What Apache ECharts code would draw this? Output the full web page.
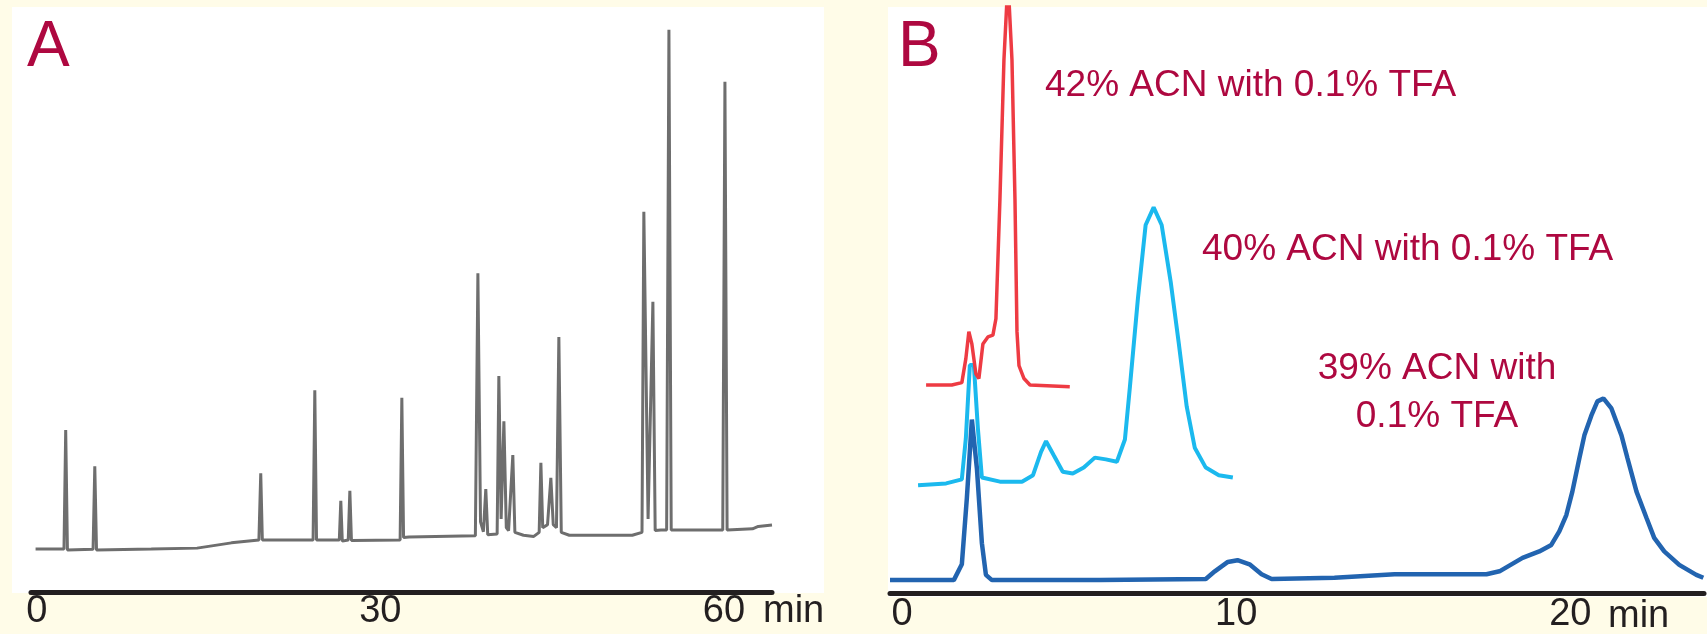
<!DOCTYPE html>
<html><head><meta charset="utf-8">
<script src="https://cdn.jsdelivr.net/npm/echarts@6/dist/echarts.min.js"></script>
<style>html,body{margin:0;padding:0;background:#FFFCE8}#c{width:1707px;height:634px}</style>
</head><body><div id="c"></div>
<script>
// Panel A: chromatogram (time in min, relative signal 0-100)
const traceA = [
  [-0.1, 7.35],
  [2.38, 7.35], [2.53, 27.7], [2.68, 7.2],
  [4.92, 7.3], [5.07, 21.5], [5.22, 7.2],
  [10, 7.35], [14, 7.5], [17, 8.4], [19.4, 8.9], [19.56, 20.3], [19.7, 8.9],
  [24.13, 8.9], [24.28, 34.5], [24.43, 8.9],
  [26.42, 8.9], [26.55, 15.6], [26.68, 8.7], [27.2, 8.9], [27.34, 17.3], [27.48, 8.8],
  [31.73, 8.9], [31.88, 33.2], [32.03, 9.3], [32.5, 9.4],
  [38.3, 9.6], [38.52, 54.5], [38.75, 12], [39.0, 10.3], [39.21, 17.6], [39.38, 9.8],
  [40.2, 9.9], [40.35, 36.9], [40.55, 12.5], [40.79, 29.2], [41.0, 11], [41.2, 10.5], [41.57, 23.4], [41.75, 10.2],
  [42.5, 9.7], [43.4, 9.5], [43.87, 10.2], [44.02, 22.1], [44.18, 11], [44.6, 11.5], [44.89, 19.5], [45.1, 11.5],
  [45.38, 11], [45.59, 43.6], [45.8, 10.2],
  [46.5, 9.7], [52.0, 9.7], [52.85, 10.2], [53.01, 65.0], [53.38, 12.5], [53.8, 49.6], [54.0, 10.5], [54.5, 10.6],
  [55.0, 10.6], [55.2, 96.1], [55.4, 10.6],
  [59.9, 10.6], [60.09, 87.2], [60.28, 10.6],
  [62.5, 10.8], [63.0, 11.2], [64.2, 11.45]
];
// Panel B: three isocratic runs
const trace42 = [
  [0.72, 35.5], [1.49, 35.5], [1.79, 35.9], [1.91, 40.0], [2.00, 44.6], [2.09, 42.5], [2.21, 37.4], [2.30, 36.6],
  [2.42, 42.5], [2.57, 43.7], [2.72, 44.0], [2.81, 46.8], [2.93, 67.2], [3.05, 91.0], [3.17, 104.6],
  [3.29, 91.0], [3.38, 67.2], [3.44, 44.6], [3.50, 38.8], [3.65, 36.6], [3.83, 35.5], [5.02, 35.2]
];
const trace40 = [
  [0.48, 18.4], [1.32, 18.7], [1.79, 19.4], [1.91, 26.4], [2.03, 38.9], [2.15, 38.9], [2.27, 28.1], [2.39, 19.7],
  [2.93, 19.0], [3.59, 19.0], [3.92, 20.1], [4.16, 24.1], [4.31, 25.9], [4.54, 23.5], [4.81, 20.7], [5.11, 20.4],
  [5.44, 21.4], [5.77, 23.1], [6.10, 22.8], [6.43, 22.4], [6.67, 26.2], [6.82, 35.2], [7.06, 50.3], [7.29, 62.8],
  [7.53, 65.8], [7.77, 62.8], [8.04, 53.1], [8.28, 42.7], [8.52, 31.8], [8.76, 24.8], [9.09, 21.4], [9.48, 20.1],
  [9.90, 19.7]
];
const trace39 = [
  [-0.36, 2.2], [1.55, 2.2], [1.79, 4.9], [1.94, 16.2], [2.09, 29.6], [2.24, 21.3], [2.39, 8.5], [2.51, 3.1],
  [2.69, 2.2], [5.92, 2.2], [9.09, 2.4], [9.36, 3.7], [9.75, 5.3], [10.04, 5.6], [10.40, 4.9], [10.76, 3.2],
  [11.06, 2.4], [12.94, 2.6], [14.74, 3.2], [17.49, 3.2], [17.88, 3.7], [18.57, 6.0], [19.07, 7.1], [19.43, 8.2],
  [19.67, 10.5], [19.88, 13.3], [20.06, 17.3], [20.27, 23.0], [20.42, 26.9], [20.63, 30.3], [20.81, 32.7],
  [20.99, 33.2], [21.23, 31.5], [21.53, 26.9], [21.71, 23.0], [21.98, 17.3], [22.28, 12.8], [22.51, 9.4],
  [22.81, 7.1], [23.26, 4.8], [23.77, 3.1], [23.98, 2.6]
];
const ticksA = [0, 30, 60];
const ticksB = [0, 10, 20];
const unitLabel = 'min';
const panelLabels = ['A', 'B'];
const runLabels = ['42% ACN with 0.1% TFA', '40% ACN with 0.1% TFA', '39% ACN with', '0.1% TFA'];

const FONT = '"Liberation Sans", Arial, sans-serif';
const INK = '#231f20';
const CRIMSON = '#AE0840';

function xAxisCfg(grid, min, max, ticks, margin) {
  return {
    type: 'value', gridIndex: grid, min: min, max: max,
    axisLine: {show: true, onZero: false, lineStyle: {color: INK, width: 5}},
    axisTick: {show: false}, splitLine: {show: false},
    axisLabel: {customValues: ticks, fontSize: 38, fontFamily: FONT, color: INK,
      margin: margin, verticalAlign: 'middle'}
  };
}
function yAxisCfg(grid) {
  return {type: 'value', gridIndex: grid, min: 0, max: 100, show: false, splitLine: {show: false}};
}
function txt(x, y, s, size, align) {
  return {type: 'text', x: x, y: y, z: 10,
    style: {text: s, fill: CRIMSON, font: size + 'px ' + FONT,
      align: align, verticalAlign: 'middle', textAlign: align, textVerticalAlign: 'middle'}};
}
function inkTxt(x, y, s) {
  return {type: 'text', x: x, y: y, z: 10,
    style: {text: s, fill: INK, font: '38px ' + FONT,
      align: 'left', verticalAlign: 'middle', textAlign: 'left', textVerticalAlign: 'middle'}};
}

const chart = echarts.init(document.getElementById('c'), null, {renderer: 'canvas'});
chart.setOption({
  backgroundColor: '#FFFCE8',
  animation: false,
  grid: [
    {left: 31, top: 7, width: 741, height: 585},
    {left: 890, top: 7, width: 814, height: 588}
  ],
  xAxis: [xAxisCfg(0, -0.5, 64.2, ticksA, 20), xAxisCfg(1, -0.36, 24, ticksB, 22)],
  yAxis: [yAxisCfg(0), yAxisCfg(1)],
  graphic: [
    {type: 'rect', z: -10, shape: {x: 12, y: 7, width: 812, height: 586}, style: {fill: '#ffffff'}},
    {type: 'rect', z: -10, shape: {x: 888, y: 7, width: 819, height: 590}, style: {fill: '#ffffff'}},
    txt(27, 48, panelLabels[0], 64, 'left'),
    txt(898, 48, panelLabels[1], 64, 'left'),
    txt(1045, 86, runLabels[0], 37, 'left'),
    txt(1202, 250, runLabels[1], 37, 'left'),
    txt(1437, 369, runLabels[2], 37, 'center'),
    txt(1437, 417, runLabels[3], 37, 'center'),
    inkTxt(763, 612, unitLabel),
    inkTxt(1608, 617, unitLabel)
  ],
  series: [
    {type: 'line', xAxisIndex: 0, yAxisIndex: 0, data: traceA, showSymbol: false, symbol: 'none',
      lineStyle: {color: '#6e6e6e', width: 3}},
    {type: 'line', xAxisIndex: 1, yAxisIndex: 1, data: trace40, showSymbol: false, symbol: 'none',
      lineStyle: {color: '#1BB9EE', width: 4}},
    {type: 'line', xAxisIndex: 1, yAxisIndex: 1, data: trace42, showSymbol: false, symbol: 'none',
      lineStyle: {color: '#EE3B43', width: 3.5}},
    {type: 'line', xAxisIndex: 1, yAxisIndex: 1, data: trace39, showSymbol: false, symbol: 'none',
      lineStyle: {color: '#2264B0', width: 4.5}}
  ]
});
</script></body></html>
